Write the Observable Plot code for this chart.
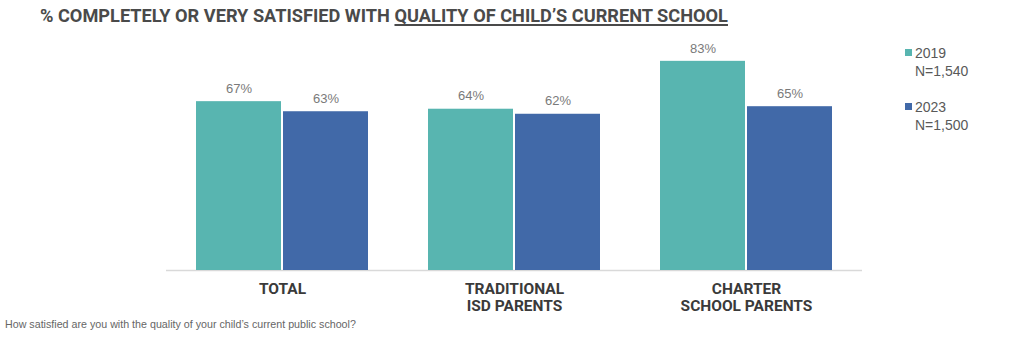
<!DOCTYPE html>
<html>
<head>
<meta charset="utf-8">
<script src="https://cdn.jsdelivr.net/npm/d3@7"></script>
<script src="https://cdn.jsdelivr.net/npm/@observablehq/plot@0.6"></script>
<style>
  html, body { margin: 0; padding: 0; background: #fff; }
  #wrap { position: relative; width: 1024px; height: 339px; overflow: hidden; font-family: Roboto, "Liberation Sans", sans-serif; }
  #title { position: absolute; left: 40px; top: 5px; font-size: 18.2px; font-weight: 700; color: #4a4a4a; white-space: nowrap; }
  #title u { text-decoration-thickness: 1.5px; text-underline-offset: 2px; }
  #note { position: absolute; left: 5px; top: 318px; font-size: 10.7px; color: #666; font-family: "Liberation Sans", Arial, sans-serif; white-space: nowrap; }
  #legend { position: absolute; left: 905px; top: 44px; font-family: "Liberation Sans", Arial, sans-serif; font-size: 14px; color: #595959; line-height: 18px; }
  .li { position: relative; padding-left: 10px; margin-bottom: 18px; }
  .sw { position: absolute; left: 0; top: 5px; width: 7px; height: 7px; }
  #chart { position: absolute; left: 0; top: 0; }
</style>
</head>
<body>
<div id="wrap">
  <div id="chart"></div>
  <div id="title">% COMPLETELY OR VERY SATISFIED WITH <u>QUALITY OF CHILD’S CURRENT SCHOOL</u></div>
  <div id="legend"></div>
  <div id="note">How satisfied are you with the quality of your child’s current public school?</div>
</div>
<script>
const groups = ["TOTAL", "TRADITIONAL\nISD PARENTS", "CHARTER\nSCHOOL PARENTS"];
const years = ["2019", "2023"];
const sampleSizes = ["N=1,540", "N=1,500"];
const values2019 = [67, 64, 83];
const values2023 = [63, 62, 65];
const colors = ["#58B5B0", "#4169A8"];

const data = [];
groups.forEach((g, i) => {
  data.push({group: g, year: years[0], value: values2019[i]});
  data.push({group: g, year: years[1], value: values2023[i]});
});

const chart = Plot.plot({
  width: 1024,
  height: 339,
  marginTop: 18,
  marginBottom: 69,
  marginLeft: 165,
  marginRight: 162,
  style: {fontFamily: "Roboto, 'Liberation Sans', sans-serif", background: "transparent"},
  fx: {domain: groups, padding: 0, label: null, axis: null},
  x: {domain: years, paddingInner: 0.02, paddingOuter: 0.33, axis: null},
  y: {domain: [0, 100], axis: null},
  color: {domain: years, range: colors},
  marks: [
    Plot.ruleY([0], {stroke: "#d9d9d9", strokeWidth: 1.5}),
    Plot.barY(data, {fx: "group", x: "year", y: "value", fill: "year"}),
    Plot.text(data, {fx: "group", x: "year", y: "value", text: d => d.value + "%", dy: -13, fill: "#7a7a7a", fontSize: 13, fontFamily: "Liberation Sans, Arial, sans-serif"}),
    Plot.axisFx({anchor: "bottom", tickSize: 0, tickPadding: 11, fontSize: 15.5, fontWeight: 700, fill: "#3a3a3a", lineHeight: 1.1, label: null})
  ]
});
document.getElementById("chart").appendChild(chart);

const legend = document.getElementById("legend");
years.forEach((y, i) => {
  const d = document.createElement("div");
  d.className = "li";
  d.innerHTML = `<span class="sw" style="background:${colors[i]}"></span>${y}<br>${sampleSizes[i]}`;
  legend.appendChild(d);
});
</script>
</body>
</html>
